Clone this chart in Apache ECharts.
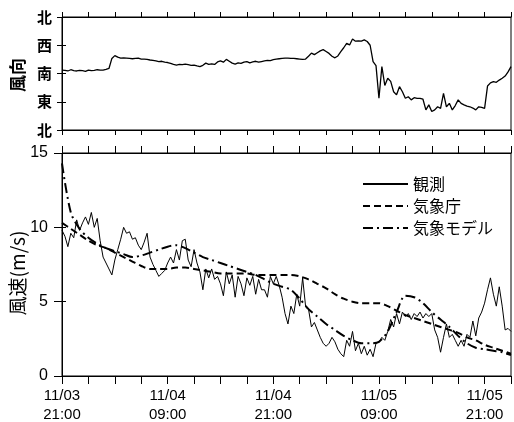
<!DOCTYPE html>
<html>
<head>
<meta charset="utf-8">
<script src="https://cdn.jsdelivr.net/npm/echarts@6/dist/echarts.min.js"></script>
<style>
  html, body { margin: 0; padding: 0; background: #fff; }
  #chart { width: 514px; height: 422px; }
</style>
</head>
<body>
<div id="chart"></div>
<script>
// hours since 11/03 21:00
const xLabels = {0: '11/03\n21:00', 12: '11/04\n09:00', 24: '11/04\n21:00', 36: '11/05\n09:00', 48: '11/05\n21:00'};
const dirLabels = {0: '北', 90: '東', 180: '南', 270: '西', 360: '北'};

// observed values every 20 minutes
const obsStep = 1 / 3;
const obsDirection = [
  191,190,188,192,189,188,190,189,187,191,189,190,192,191,191,193,196,228,237,232,
  229,230,229,228,227,228,229,226,226,225,223,222,220,218,219,216,215,212,209,207,
  209,208,210,208,206,207,204,202,206,213,209,211,209,217,220,216,225,219,213,210,
  214,212,216,218,214,217,219,216,218,220,222,221,224,226,227,228,229,229,228,228,
  227,226,225,226,235,245,240,246,252,256,250,244,235,230,236,250,262,276,271,290,
  283,284,283,287,282,270,218,205,101,202,142,165,155,122,112,138,122,101,106,96,
  103,101,101,98,64,80,59,64,74,69,117,74,85,64,78,96,85,80,76,74,
  70,64,74,72,69,140,150,154,152,159,165,172,185,202
];
const obsSpeed = [
  9.8,9.4,8.7,9.6,9.3,10.5,9.8,10.3,10.7,10.2,11.0,10.0,10.6,9.1,8.0,7.6,7.2,6.8,7.8,8.5,
  9.2,10.0,9.6,9.7,9.2,9.3,8.8,8.5,9.0,9.6,8.0,7.5,7.1,6.7,6.9,7.1,7.6,8.0,7.6,8.5,
  7.8,9.1,9.2,7.8,7.35,8.5,7.6,7.0,5.8,7.2,6.6,7.2,6.5,6.7,6.2,5.4,7.0,6.2,6.8,5.3,
  6.7,6.2,5.4,6.6,6.1,6.7,5.5,6.5,5.8,5.8,5.3,6.7,6.2,6.7,6.1,5.3,4.2,3.5,4.7,4.2,
  5.5,4.7,6.6,4.7,4.5,3.3,3.6,3.1,2.6,2.2,2.0,2.2,2.6,2.3,1.8,1.5,1.3,2.4,2.0,3.0,
  1.7,2.2,1.5,2.0,1.4,1.8,1.3,2.2,2.3,2.6,2.4,3.0,3.8,3.3,4.2,3.5,4.3,4.0,4.2,3.8,
  4.2,4.0,4.3,3.9,4.2,4.0,4.2,3.1,2.6,1.6,2.6,3.5,2.6,2.8,2.4,2.0,2.4,2.0,2.8,2.6,
  3.7,2.7,3.9,4.3,4.9,5.8,6.6,5.5,4.7,6.0,4.7,3.1,3.2,3.0
];

// forecasts, hourly
const fcStep = 1;
const jmaSpeed = [
  10.3,9.9,9.5,9.1,8.8,8.6,8.3,8.0,7.7,7.4,7.2,7.2,7.2,7.3,7.3,7.2,7.1,7.0,6.9,6.9,
  6.9,6.9,6.8,6.8,6.8,6.8,6.8,6.7,6.5,6.2,5.9,5.5,5.2,5.0,4.9,4.9,4.9,4.7,4.4,4.1,
  3.9,3.7,3.5,3.3,3.1,2.9,2.6,2.4,2.1,1.9,1.7,1.5
];
const modelSpeed = [
  14.3,11.0,9.9,9.3,8.9,8.6,8.4,8.2,8.0,8.1,8.3,8.5,8.7,8.8,8.6,8.3,8.0,7.8,7.6,7.4,
  7.2,7.0,6.8,6.5,6.2,6.0,5.8,5.2,4.5,4.0,3.5,3.1,2.7,2.4,2.2,2.2,2.3,3.0,4.3,5.4,
  5.3,4.9,4.3,3.8,3.3,2.7,2.2,1.9,1.8,1.7,1.6,1.4
];

function toPairs(values, step) {
  return values.map((v, i) => [i * step, v]);
}

const numFont = 'Liberation Sans';
const cjkFont = 'Noto Sans CJK JP';

function timeAxis(gridIndex, position, withLabels, tickLen) {
  return {
    type: 'value', gridIndex: gridIndex, position: position,
    min: 0, max: 51, interval: 3,
    axisLine: {show: true, onZero: false, lineStyle: {color: '#000', width: 1}},
    axisTick: {show: true, inside: false, length: tickLen, lineStyle: {color: '#000'}},
    axisLabel: {
      show: withLabels, margin: 10, color: '#000', fontFamily: numFont, fontSize: 15, lineHeight: 19,
      formatter: v => xLabels[v] || ''
    },
    splitLine: {show: false}
  };
}

// vertical axis titles, rotated to read bottom-up
function axisTitle(text, cx, cy, size, weight) {
  return {
    type: 'text', x: cx, y: cy, rotation: Math.PI / 2,
    style: {text: text, fill: '#000', font: weight + ' ' + size + 'px "' + cjkFont + '"',
      align: 'center', verticalAlign: 'middle'}
  };
}

const chart = echarts.init(document.getElementById('chart'));
chart.setOption({
  animation: false,
  backgroundColor: '#fff',
  grid: [
    {left: 62, top: 17, width: 449, height: 113, show: true, borderColor: '#000', borderWidth: 1,
      outerBoundsMode: 'none'},
    {left: 62, top: 153, width: 449, height: 223, show: true, borderColor: '#000', borderWidth: 1,
      outerBoundsMode: 'none'}
  ],
  graphic: [
    axisTitle('風向', 18, 75, 17, 'bold'),
    axisTitle('風速(m/s)', 18, 273, 19, 'normal')
  ],
  xAxis: [
    timeAxis(0, 'top', false, 5),
    timeAxis(0, 'bottom', false, 5),
    timeAxis(1, 'top', false, 7),
    timeAxis(1, 'bottom', true, 8)
  ],
  yAxis: [
    {
      type: 'value', gridIndex: 0, min: 0, max: 360, interval: 90,
      axisLine: {show: true, lineStyle: {color: '#000'}},
      axisTick: {show: true, length: 5, lineStyle: {color: '#000'}},
      axisLabel: {margin: 10, color: '#000', fontFamily: cjkFont, fontSize: 15, fontWeight: 'bold',
        formatter: v => dirLabels[v]},
      splitLine: {show: false}
    },
    {
      type: 'value', gridIndex: 0, position: 'right', min: 0, max: 360, interval: 90,
      axisLine: {show: true, lineStyle: {color: '#000'}},
      axisTick: {show: true, length: 4, lineStyle: {color: '#000'}},
      axisLabel: {show: false}, splitLine: {show: false}
    },
    {
      type: 'value', gridIndex: 1, min: 0, max: 15, interval: 5,
      axisLine: {show: true, lineStyle: {color: '#000'}},
      axisTick: {show: true, length: 8, lineStyle: {color: '#000'}},
      axisLabel: {margin: 14, color: '#000', fontFamily: numFont, fontSize: 16},
      splitLine: {show: false}
    },
    {
      type: 'value', gridIndex: 1, position: 'right', min: 0, max: 15, interval: 5,
      axisLine: {show: true, lineStyle: {color: '#000'}},
      axisTick: {show: true, length: 4, lineStyle: {color: '#000'}},
      axisLabel: {show: false}, splitLine: {show: false}
    }
  ],
  legend: {
    orient: 'vertical', left: 357, top: 168, itemWidth: 45, itemHeight: 14, itemGap: 0,
    itemStyle: {opacity: 0},
    textStyle: {fontFamily: cjkFont, fontSize: 16, lineHeight: 22, color: '#000'},
    data: ['観測', '気象庁', '気象モデル']
  },
  series: [
    {
      name: '風向', type: 'line', xAxisIndex: 1, yAxisIndex: 0, symbol: 'none',
      lineStyle: {color: '#000', width: 1.3}, data: toPairs(obsDirection, obsStep)
    },
    {
      name: '観測', type: 'line', xAxisIndex: 3, yAxisIndex: 2, symbol: 'none',
      itemStyle: {color: '#000'},
      lineStyle: {color: '#000', width: 1}, data: toPairs(obsSpeed, obsStep)
    },
    {
      name: '気象庁', type: 'line', xAxisIndex: 3, yAxisIndex: 2, symbol: 'none', smooth: 0.3,
      itemStyle: {color: '#000'},
      lineStyle: {color: '#000', width: 2, type: [7, 4]}, data: toPairs(jmaSpeed, fcStep)
    },
    {
      name: '気象モデル', type: 'line', xAxisIndex: 3, yAxisIndex: 2, symbol: 'none', smooth: 0.3,
      itemStyle: {color: '#000'},
      lineStyle: {color: '#000', width: 2, type: [10, 4, 2, 4]}, data: toPairs(modelSpeed, fcStep)
    }
  ]
});
</script>
</body>
</html>
